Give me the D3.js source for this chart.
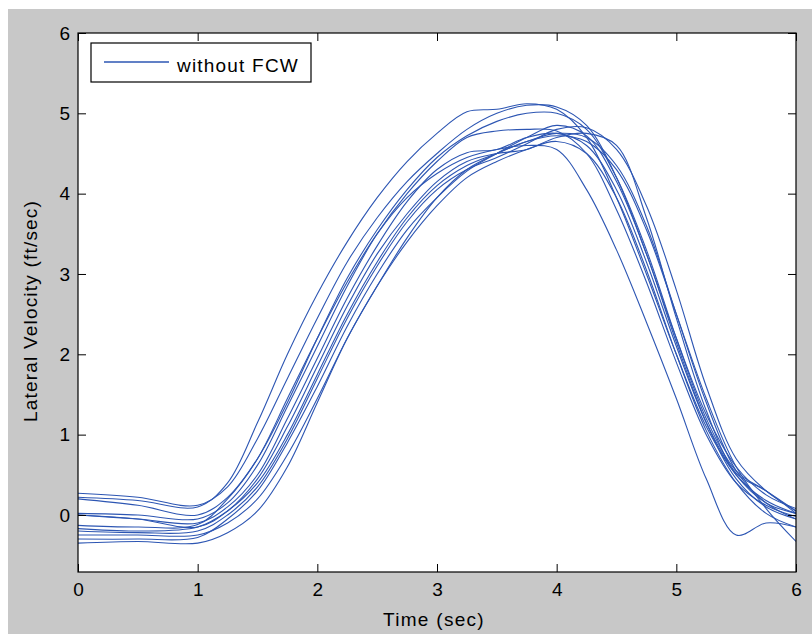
<!DOCTYPE html>
<html>
<head>
<meta charset="utf-8">
<script src="https://cdn.jsdelivr.net/npm/d3@7"></script>
<style>
  body { margin: 0; background: #fff; }
  text { font-family: "Liberation Sans", Arial, sans-serif; fill: #000; }
</style>
</head>
<body>
<svg id="chart" width="812" height="634"></svg>
<script>
/**
 * Data: lateral velocity (ft/sec) of each run
 * sampled at the times below
 */
var times = [0, 0.5, 1, 1.25, 1.5, 1.75, 2, 2.25, 2.5, 2.75, 3, 3.25, 3.5, 3.75, 4, 4.25, 4.5, 4.75, 5, 5.25, 5.5, 5.75, 6];

var run1  = [0.22, 0.18, 0.10, 0.40, 1.15, 2.00, 2.75, 3.40, 3.95, 4.40, 4.75, 5.02, 5.05, 5.12, 5.05, 4.70, 3.95, 3.00, 2.00, 1.10, 0.50, 0.18, 0.02];
var run2  = [0.27, 0.22, 0.12, 0.35, 0.95, 1.70, 2.45, 3.15, 3.70, 4.15, 4.50, 4.80, 5.00, 5.10, 5.08, 4.85, 4.20, 3.25, 2.20, 1.25, 0.60, 0.25, 0.08];
var run3  = [0.02, 0.00, -0.05, 0.15, 0.62, 1.35, 2.10, 2.85, 3.50, 4.00, 4.40, 4.70, 4.78, 4.80, 4.78, 4.50, 3.80, 2.90, 1.90, 1.00, 0.40, 0.12, -0.02];
var run4  = [0.00, -0.05, -0.10, 0.10, 0.50, 1.20, 1.95, 2.70, 3.35, 3.90, 4.30, 4.51, 4.55, 4.70, 4.75, 4.60, 4.05, 3.15, 2.10, 1.15, 0.50, 0.15, 0.02];
var run5  = [-0.13, -0.15, -0.12, 0.20, 0.70, 1.45, 2.20, 2.90, 3.50, 3.95, 4.25, 4.45, 4.55, 4.60, 4.55, 4.05, 3.30, 2.40, 1.45, 0.45, -0.25, -0.10, -0.15];
var run6  = [-0.17, -0.20, -0.15, 0.05, 0.40, 1.00, 1.75, 2.50, 3.15, 3.70, 4.10, 4.35, 4.50, 4.65, 4.75, 4.70, 4.35, 3.60, 2.50, 1.40, 0.55, 0.15, -0.05];
var run7  = [-0.20, -0.22, -0.20, 0.00, 0.35, 0.95, 1.70, 2.45, 3.10, 3.65, 4.05, 4.30, 4.45, 4.62, 4.80, 4.82, 4.55, 3.85, 2.80, 1.60, 0.70, 0.30, 0.05];
var run8  = [-0.25, -0.25, -0.25, -0.10, 0.20, 0.75, 1.45, 2.20, 2.85, 3.40, 3.85, 4.20, 4.40, 4.55, 4.65, 4.50, 3.95, 3.05, 2.00, 1.05, 0.40, 0.02, -0.15];
var run9  = [-0.35, -0.33, -0.35, -0.22, 0.05, 0.60, 1.40, 2.20, 2.85, 3.45, 3.95, 4.30, 4.50, 4.65, 4.72, 4.65, 4.30, 3.55, 2.50, 1.45, 0.60, 0.08, -0.33];
var run10 = [0.20, 0.12, 0.00, 0.22, 0.70, 1.40, 2.20, 2.95, 3.55, 4.05, 4.45, 4.72, 4.90, 5.00, 5.00, 4.80, 4.20, 3.30, 2.20, 1.20, 0.55, 0.30, 0.05];
var run11 = [-0.30, -0.30, -0.28, -0.05, 0.30, 0.90, 1.60, 2.35, 3.00, 3.55, 3.95, 4.28, 4.50, 4.70, 4.85, 4.72, 4.15, 3.25, 2.15, 1.15, 0.45, 0.10, -0.05];
var run12 = [0.00, -0.05, -0.15, 0.05, 0.45, 1.10, 1.85, 2.60, 3.25, 3.75, 4.15, 4.40, 4.50, 4.55, 4.70, 4.75, 4.60, 3.70, 2.45, 1.30, 0.52, 0.30, 0.02];

var runs = [run1, run2, run3, run4, run5, run6, run7, run8, run9, run10, run11, run12];

var xTicks = [0, 1, 2, 3, 4, 5, 6];
var yTicks = [0, 1, 2, 3, 4, 5, 6];
var legendLabel = "without FCW";

window.onload = function(){
    drawChart();
};

function drawChart(){
    let svg = d3.select("#chart");
    let width = 812, height = 634;

    // plot box
    let left = 78, right = 796, top = 33, bottom = 572;
    let lineColor = "#2d56b3";

    // grey figure background
    svg.append("rect")
        .attr("x", 8).attr("y", 9)
        .attr("width", width - 8).attr("height", height - 9)
        .style("fill", "#c8c8c8");

    let xScale = d3.scaleLinear().domain([0, 6]).range([left, right]);
    let yScale = d3.scaleLinear().domain([-0.71, 6]).range([bottom, top]);

    svg.append("rect")
        .attr("x", left).attr("y", top)
        .attr("width", right - left).attr("height", bottom - top)
        .style("fill", "#fff");

    svg.append("clipPath").attr("id", "plotClip")
        .append("rect")
        .attr("x", left).attr("y", top)
        .attr("width", right - left).attr("height", bottom - top);

    let line = d3.line()
        .x(function(d, i){ return xScale(times[i]); })
        .y(function(d){ return yScale(d); })
        .curve(d3.curveCatmullRom.alpha(0.5));

    svg.append("g")
        .attr("clip-path", "url(#plotClip)")
        .selectAll("path")
        .data(runs)
        .enter()
        .append("path")
        .attr("d", line)
        .style("fill", "none")
        .style("stroke", lineColor)
        .style("stroke-width", 1.1);

    // axes, ticks pointing inward
    let fontSize = "19px";
    let fmt = d3.format("d");
    svg.append("g")
        .attr("transform", `translate(0,${bottom})`)
        .call(d3.axisBottom(xScale).tickValues(xTicks).tickFormat(fmt)
            .tickSizeInner(-8).tickSizeOuter(0).tickPadding(11));
    svg.append("g")
        .attr("transform", `translate(${left},0)`)
        .call(d3.axisLeft(yScale).tickValues(yTicks).tickFormat(fmt)
            .tickSizeInner(-8).tickSizeOuter(0).tickPadding(8));
    svg.append("g")
        .attr("transform", `translate(0,${top})`)
        .call(d3.axisTop(xScale).tickValues(xTicks).tickSizeInner(-8).tickSizeOuter(0).tickFormat(""));
    svg.append("g")
        .attr("transform", `translate(${right},0)`)
        .call(d3.axisRight(yScale).tickValues(yTicks).tickSizeInner(-8).tickSizeOuter(0).tickFormat(""));

    svg.selectAll(".domain").remove();
    svg.selectAll(".tick line").style("stroke", "#000");
    svg.selectAll(".tick text")
        .style("font-size", fontSize)
        .style("font-family", "'Liberation Sans', Arial, sans-serif")
        .style("fill", "#000");

    svg.append("rect")
        .attr("x", left).attr("y", top)
        .attr("width", right - left).attr("height", bottom - top)
        .style("fill", "none")
        .style("stroke", "#000")
        .style("stroke-width", 1.2);

    // axis titles
    svg.append("text")
        .attr("x", 434).attr("y", 626)
        .attr("text-anchor", "middle")
        .style("font-size", fontSize)
        .style("letter-spacing", "1.3px")
        .text("Time (sec)");

    svg.append("text")
        .attr("transform", "translate(37,311) rotate(-90)")
        .attr("text-anchor", "middle")
        .style("font-size", fontSize)
        .style("letter-spacing", "1.2px")
        .text("Lateral Velocity (ft/sec)");

    // legend
    let legend = svg.append("g");
    legend.append("rect")
        .attr("x", 91).attr("y", 43)
        .attr("width", 220).attr("height", 39)
        .style("fill", "#fff")
        .style("stroke", "#000")
        .style("stroke-width", 1.2);
    legend.append("line")
        .attr("x1", 104).attr("x2", 169)
        .attr("y1", 62).attr("y2", 62)
        .style("stroke", lineColor)
        .style("stroke-width", 1.3);
    legend.append("text")
        .attr("x", 177).attr("y", 72)
        .style("font-size", fontSize)
        .style("letter-spacing", "1.2px")
        .text(legendLabel);
}
</script>
</body>
</html>
